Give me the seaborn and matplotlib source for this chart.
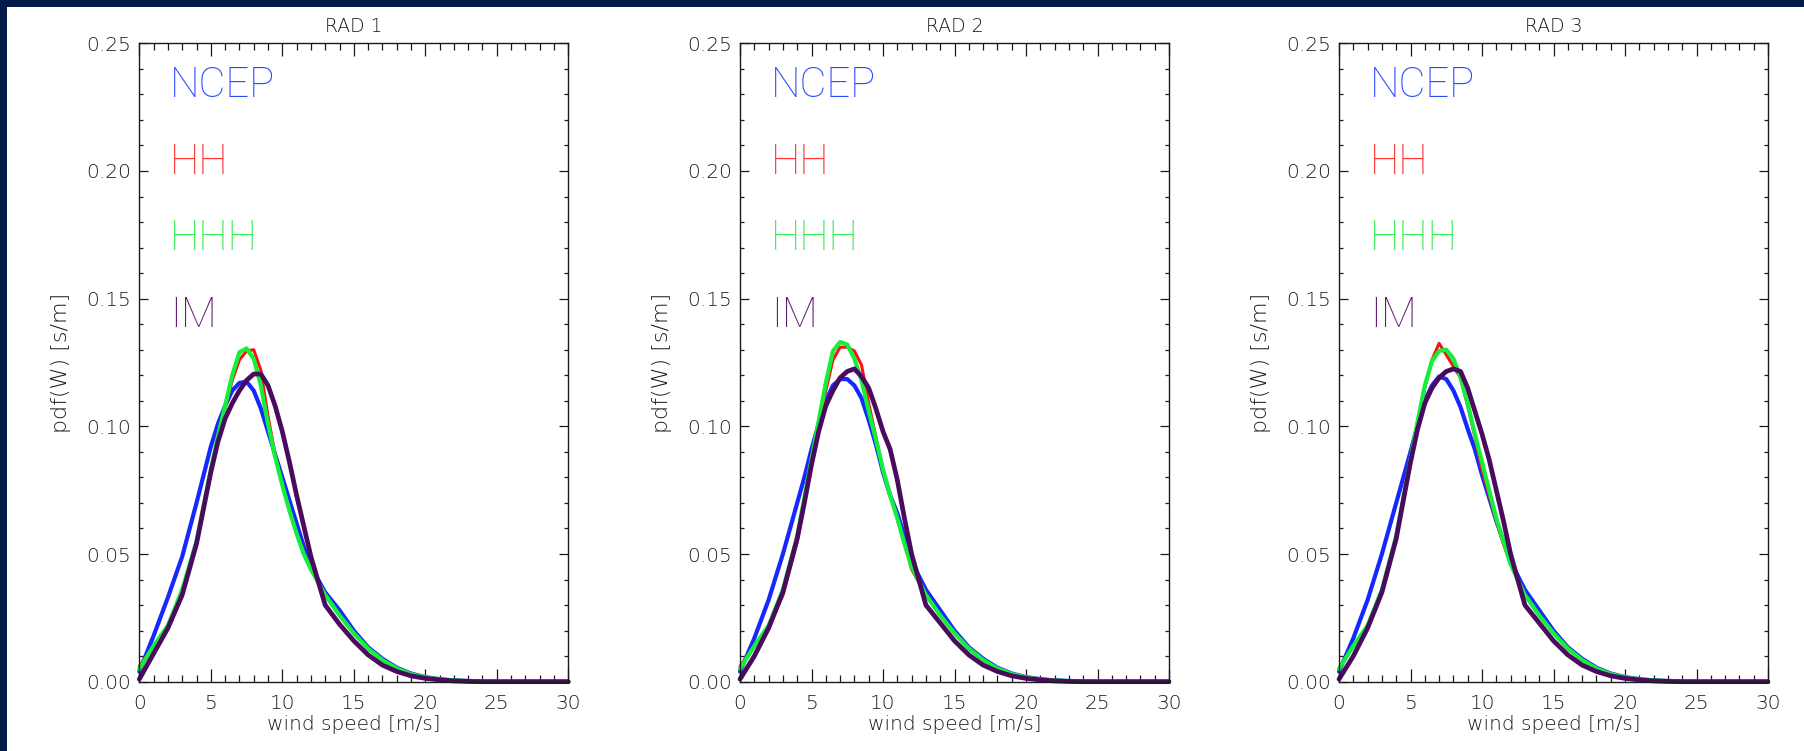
import matplotlib
matplotlib.use("Agg")
import matplotlib.pyplot as plt
import numpy as np
import pandas as pd
import seaborn as sns
from matplotlib.ticker import MultipleLocator, FormatStrFormatter
from matplotlib.patches import Rectangle

# ---------------- data ----------------
wind_speed = [0, 1, 2, 3, 4, 4.5, 5, 5.5, 6, 6.5, 7, 7.5, 8, 8.5, 9, 9.5, 10, 10.5,
              11, 11.5, 12, 13, 14, 15, 16, 17, 18, 19, 20, 21, 22, 23, 24, 25, 30]

series_names = ["NCEP", "HH", "HHH", "IM"]
panel_titles = ["RAD 1", "RAD 2", "RAD 3"]

ncep_rad1 = [0.004, 0.018, 0.033, 0.049, 0.070, 0.081, 0.092, 0.101, 0.108, 0.114, 0.117, 0.1175, 0.114, 0.107, 0.098, 0.089, 0.080, 0.071,
             0.062, 0.053, 0.045, 0.035, 0.028, 0.020, 0.0135, 0.009, 0.0055, 0.0032, 0.0018, 0.0010, 0.0005, 0.0003, 0.0001, 0, 0]
hh_rad1 = [0.006, 0.014, 0.021, 0.034, 0.054, 0.068, 0.082, 0.095, 0.107, 0.118, 0.126, 0.1295, 0.130, 0.122, 0.104, 0.089, 0.077, 0.067,
           0.058, 0.050, 0.044, 0.034, 0.026, 0.019, 0.013, 0.0085, 0.0052, 0.003, 0.0017, 0.0009, 0.0005, 0.0002, 0.0001, 0, 0]
hhh_rad1 = [0.005, 0.014, 0.022, 0.036, 0.055, 0.069, 0.083, 0.096, 0.108, 0.120, 0.129, 0.1305, 0.1265, 0.116, 0.101, 0.088, 0.077, 0.067,
            0.058, 0.050, 0.044, 0.034, 0.026, 0.019, 0.013, 0.0085, 0.0052, 0.003, 0.0017, 0.0009, 0.0005, 0.0002, 0.0001, 0, 0]
im_rad1 = [0.001, 0.011, 0.021, 0.034, 0.054, 0.068, 0.082, 0.094, 0.103, 0.109, 0.114, 0.118, 0.1205, 0.1205, 0.116, 0.108, 0.098, 0.086,
           0.073, 0.061, 0.049, 0.030, 0.0225, 0.016, 0.0105, 0.0065, 0.004, 0.0023, 0.0013, 0.0007, 0.0003, 0.0001, 0, 0, 0]

ncep_rad2 = [0.004, 0.017, 0.032, 0.050, 0.070, 0.080, 0.091, 0.101, 0.110, 0.116, 0.1185, 0.1185, 0.116, 0.111, 0.1025, 0.093, 0.082, 0.073,
             0.066, 0.057, 0.047, 0.036, 0.028, 0.020, 0.0135, 0.009, 0.0055, 0.0032, 0.0018, 0.0010, 0.0005, 0.0003, 0.0001, 0, 0]
hh_rad2 = [0.006, 0.014, 0.021, 0.034, 0.055, 0.070, 0.085, 0.100, 0.114, 0.126, 0.131, 0.131, 0.1295, 0.124, 0.109, 0.096, 0.083, 0.073,
           0.064, 0.054, 0.044, 0.034, 0.026, 0.019, 0.013, 0.0085, 0.0052, 0.003, 0.0017, 0.0009, 0.0005, 0.0002, 0.0001, 0, 0]
hhh_rad2 = [0.005, 0.014, 0.022, 0.036, 0.057, 0.072, 0.087, 0.102, 0.117, 0.1295, 0.1330, 0.1320, 0.1265, 0.118, 0.106, 0.095, 0.083, 0.073,
            0.064, 0.054, 0.045, 0.034, 0.026, 0.019, 0.013, 0.0085, 0.0052, 0.003, 0.0017, 0.0009, 0.0005, 0.0002, 0.0001, 0, 0]
im_rad2 = [0.001, 0.010, 0.021, 0.035, 0.056, 0.070, 0.085, 0.098, 0.108, 0.114, 0.119, 0.1215, 0.1225, 0.1195, 0.115, 0.107, 0.098, 0.091,
           0.079, 0.064, 0.050, 0.030, 0.023, 0.016, 0.0105, 0.0065, 0.004, 0.0023, 0.0013, 0.0007, 0.0003, 0.0001, 0, 0, 0]

ncep_rad3 = [0.004, 0.017, 0.032, 0.050, 0.070, 0.080, 0.090, 0.1005, 0.110, 0.116, 0.1195, 0.1185, 0.114, 0.1075, 0.099, 0.091, 0.081, 0.072,
             0.063, 0.055, 0.047, 0.036, 0.028, 0.020, 0.0135, 0.009, 0.0055, 0.0032, 0.0018, 0.0010, 0.0005, 0.0003, 0.0001, 0, 0]
hh_rad3 = [0.005, 0.014, 0.022, 0.035, 0.056, 0.071, 0.086, 0.101, 0.115, 0.126, 0.1325, 0.128, 0.1235, 0.119, 0.108, 0.096, 0.083, 0.073,
           0.063, 0.054, 0.046, 0.034, 0.026, 0.019, 0.013, 0.0085, 0.0052, 0.003, 0.0017, 0.0009, 0.0005, 0.0002, 0.0001, 0, 0]
hhh_rad3 = [0.005, 0.014, 0.022, 0.036, 0.057, 0.072, 0.087, 0.102, 0.116, 0.1255, 0.1295, 0.130, 0.1265, 0.119, 0.109, 0.097, 0.086, 0.075,
            0.064, 0.055, 0.046, 0.034, 0.026, 0.019, 0.013, 0.0085, 0.0052, 0.003, 0.0017, 0.0009, 0.0005, 0.0002, 0.0001, 0, 0]
im_rad3 = [0.001, 0.010, 0.021, 0.035, 0.056, 0.071, 0.086, 0.099, 0.109, 0.115, 0.119, 0.1215, 0.1225, 0.1215, 0.115, 0.106, 0.097, 0.087,
           0.075, 0.063, 0.050, 0.030, 0.023, 0.016, 0.0105, 0.0065, 0.004, 0.0023, 0.0013, 0.0007, 0.0003, 0.0001, 0, 0, 0]

panels = [
    [ncep_rad1, hh_rad1, hhh_rad1, im_rad1],
    [ncep_rad2, hh_rad2, hhh_rad2, im_rad2],
    [ncep_rad3, hh_rad3, hhh_rad3, im_rad3],
]

# ---------------- style ----------------
line_colors = {"NCEP": "#1428ff", "HH": "#ff1010", "HHH": "#12f03a", "IM": "#4a0a5e"}
text_colors = {"NCEP": "#2a48ff", "HH": "#ff2a2a", "HHH": "#2aee4a", "IM": "#5e1a72"}
line_widths = {"NCEP": 3.0, "HH": 2.2, "HHH": 3.0, "IM": 3.4}
label_y = [0.229, 0.199, 0.169, 0.139]

sns.set_theme(style="ticks")
plt.rcParams["font.family"] = ["DejaVu Sans"]
plt.rcParams["font.weight"] = "light"
plt.rcParams["axes.labelweight"] = "light"
plt.rcParams["axes.titleweight"] = "light"
INK = "#1a1a1a"

W, H = 1804, 751
fig = plt.figure(figsize=(W / 100, H / 100), dpi=100)
fig.patch.set_facecolor("#021a4a")
bg = Rectangle((7 / W, 0), 1 - 7 / W, 1 - 7 / H, transform=fig.transFigure,
               facecolor="white", edgecolor="none", zorder=-10)
fig.add_artist(bg)

ax_lefts = [139.3, 740.0, 1339.0]
ax_w = 429.0
ax_top, ax_bot = 43.3, 681.7

for p, (vals, title) in enumerate(zip(panels, panel_titles)):
    ax = fig.add_axes([ax_lefts[p] / W, (H - ax_bot) / H, ax_w / W, (ax_bot - ax_top) / H])
    ax.set_zorder(1)
    ax.set_facecolor("white")
    df = pd.DataFrame({
        "wind": np.tile(wind_speed, len(series_names)),
        "pdf": np.concatenate(vals),
        "series": np.repeat(series_names, len(wind_speed)),
    })
    for name in series_names:
        sub = df[df["series"] == name]
        sns.lineplot(data=sub, x="wind", y="pdf", color=line_colors[name],
                     lw=line_widths[name], ax=ax, legend=False, estimator=None,
                     sort=False, clip_on=False, solid_joinstyle="round")
    ax.set_xlim(0, 30)
    ax.set_ylim(0, 0.25)
    ax.xaxis.set_major_locator(MultipleLocator(5))
    ax.xaxis.set_minor_locator(MultipleLocator(1))
    ax.yaxis.set_major_locator(MultipleLocator(0.05))
    ax.yaxis.set_minor_locator(MultipleLocator(0.01))
    ax.yaxis.set_major_formatter(FormatStrFormatter("%.2f"))
    ax.tick_params(axis="x", which="major", direction="in", length=9.4, width=0.9,
                   top=True, bottom=True, labelsize=14.5, pad=9, colors=INK)
    ax.tick_params(axis="x", which="minor", direction="in", length=4.7, width=0.9,
                   top=True, bottom=True, colors=INK)
    ax.tick_params(axis="y", which="major", direction="in", length=6.2, width=0.9,
                   left=True, right=True, labelsize=14.5, pad=6, colors=INK)
    ax.tick_params(axis="y", which="minor", direction="in", length=3.1, width=0.9,
                   left=True, right=True, colors=INK)
    for s in ax.spines.values():
        s.set_linewidth(1.0)
        s.set_color(INK)
        s.set_visible(True)
    ax.set_xlabel("wind speed [m/s]", fontsize=14.5, labelpad=1, color=INK)
    ax.set_ylabel("pdf(W) [s/m]", fontsize=16, labelpad=11, color=INK)
    ax.set_title(title, fontsize=13.5, pad=8, color=INK)
    for name, yy in zip(series_names, label_y):
        ax.text(2.15, yy, name, color=text_colors[name], fontsize=30,
                ha="left", va="baseline", fontweight="light",
                family=["Roboto", "DejaVu Sans"])

fig.savefig("out.png", dpi=100, facecolor=fig.get_facecolor())
